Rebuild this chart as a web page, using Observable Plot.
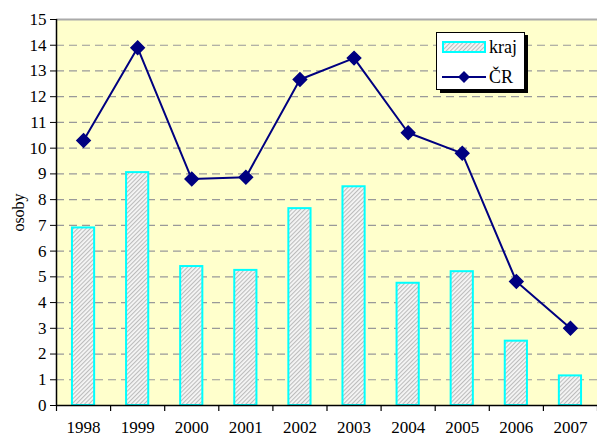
<!DOCTYPE html>
<html><head><meta charset="utf-8">
<script src="https://cdn.jsdelivr.net/npm/d3@7"></script>
<script src="https://cdn.jsdelivr.net/npm/@observablehq/plot@0.6"></script>
<style>body{margin:0;background:#fff} #chart{width:597px;height:437px}</style>
</head><body><div id="chart"></div>
<script>
const years = [1998, 1999, 2000, 2001, 2002, 2003, 2004, 2005, 2006, 2007];
const kraj = [6.9, 9.05, 5.4, 5.25, 7.65, 8.5, 4.75, 5.2, 2.5, 1.15];
const cr = [10.3, 13.9, 8.8, 8.87, 12.67, 13.5, 10.6, 9.8, 4.82, 3.0];
const yTicks = [0,1,2,3,4,5,6,7,8,9,10,11,12,13,14,15];
const seriesNames = ["kraj", "ČR"];

const data = years.map((y, i) => ({year: y, kraj: kraj[i], cr: cr[i]}));
const boundaries = [years[0] - 0.5, ...years.map(y => y + 0.5)];
const FONT = "'Liberation Serif', 'Times New Roman', serif";

const plot = Plot.plot({
  width: 597, height: 437,
  marginLeft: 56, marginRight: 0, marginTop: 19, marginBottom: 32,
  style: {fontFamily: FONT, fontSize: "17px", background: "transparent", color: "#000"},
  x: {type: "linear", domain: [years[0] - 0.5, years[years.length - 1] + 0.5], label: null},
  y: {domain: [0, 15], label: null},
  marks: [
    Plot.frame({fill: "#ffffcc", stroke: null}),
    Plot.gridY(yTicks.slice(1, -1), {stroke: "#999", strokeOpacity: 1, strokeDasharray: "8,5", strokeWidth: 1.2}),
    Plot.ruleY([15], {stroke: "#aaa", strokeWidth: 2}),
    Plot.rectY(data, {x1: d => d.year - 0.205, x2: d => d.year + 0.205, y: "kraj", fill: "url(#hatch)", stroke: "#00ffff", strokeWidth: 2}),
    Plot.line(data, {x: "year", y: "cr", stroke: "#000080", strokeWidth: 2}),
    Plot.dot(data, {x: "year", y: "cr", symbol: "diamond2", r: 6, fill: "#000080", stroke: "#000080"}),
    Plot.axisY(yTicks, {tickSize: 6, tickPadding: 4, label: "osoby", labelAnchor: "center", labelArrow: "none", labelOffset: 44}),
    Plot.axisX(boundaries, {tickSize: 6, tickFormat: () => "", strokeWidth: 1.2}),
    Plot.axisX(years, {tickSize: 0, tickPadding: 15, tickFormat: d => String(d)}),
    Plot.ruleX([years[0] - 0.5], {stroke: "#000", strokeWidth: 1.5}),
    Plot.ruleY([0], {stroke: "#000", strokeWidth: 1.5})
  ]
});

const svg = d3.select(plot);
svg.insert("defs", ":first-child").html(
  '<pattern id="hatch" width="3" height="3" patternUnits="userSpaceOnUse" patternTransform="rotate(45)">' +
  '<rect width="3" height="3" fill="#f6f6f6"/><rect width="1.1" height="3" fill="#bcbcbc"/></pattern>'
);
svg.selectAll("[aria-label='y-axis label'] text").style("font-size", "16px");

// legend
const lg = svg.append("g").style("font-family", FONT).style("font-size", "18px").attr("text-anchor", "start");
lg.append("rect").attr("x", 440).attr("y", 35).attr("width", 88).attr("height", 58).attr("fill", "#000");
lg.append("rect").attr("x", 436.5).attr("y", 32.5).attr("width", 88).attr("height", 57).attr("fill", "#fff").attr("stroke", "#000").attr("stroke-width", 1);
lg.append("rect").attr("x", 443).attr("y", 42).attr("width", 42).attr("height", 10).attr("fill", "url(#hatch)").attr("stroke", "#00ffff").attr("stroke-width", 2);
lg.append("text").attr("x", 489).attr("y", 53).text(seriesNames[0]);
lg.append("line").attr("x1", 442).attr("x2", 486).attr("y1", 77).attr("y2", 77).attr("stroke", "#000080").attr("stroke-width", 2);
lg.append("path").attr("d", "M464,71L470,77L464,83L458,77Z").attr("fill", "#000080");
lg.append("text").attr("x", 489).attr("y", 83).text(seriesNames[1]);

document.getElementById("chart").appendChild(plot);
</script>
</body></html>
